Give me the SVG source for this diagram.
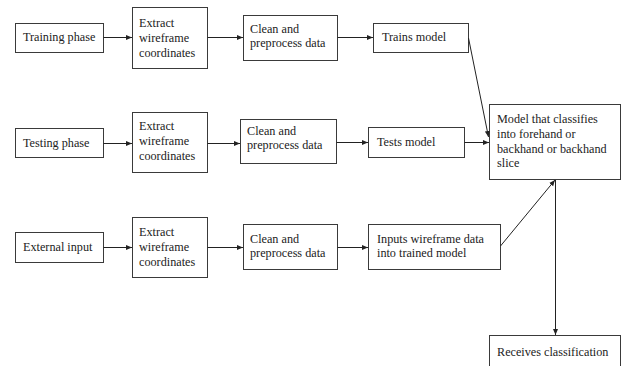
<svg xmlns="http://www.w3.org/2000/svg" width="621" height="366" viewBox="0 0 621 366">
<defs>
<marker id="ah" viewBox="0 0 6 6" refX="6" refY="3" markerWidth="6" markerHeight="6" markerUnits="userSpaceOnUse" orient="auto">
<path d="M0,0.5 L6,3 L0,5.5 z" fill="#222"/>
</marker>
<style>
rect{fill:#fff;stroke:#3a3a3a;stroke-width:1}
text{font-family:"Liberation Serif","Times New Roman",serif;font-size:12.2px;fill:#222}
.c line{stroke:#222;stroke-width:1;marker-end:url(#ah)}
</style>
</defs>
<rect x="0" y="0" width="621" height="366" style="stroke:none"/>
<g id="training"><rect x="15.5" y="23.5" width="88" height="29"/><text x="23" y="41">Training phase</text></g>
<g id="extract1"><rect x="132.5" y="7.5" width="75" height="61"/><text x="139" y="27">Extract</text><text x="139" y="42">wireframe</text><text x="139" y="57">coordinates</text></g>
<g id="clean1"><rect x="243.5" y="15.5" width="94" height="45"/><text x="250" y="33">Clean and</text><text x="250" y="47">preprocess data</text></g>
<g id="trains"><rect x="373.5" y="23.5" width="95" height="29"/><text x="382" y="41">Trains model</text></g>
<g id="testing"><rect x="15.5" y="128.5" width="88" height="29"/><text x="23" y="147">Testing phase</text></g>
<g id="extract2"><rect x="132.5" y="112.5" width="75" height="60"/><text x="139" y="130">Extract</text><text x="139" y="145">wireframe</text><text x="139" y="160">coordinates</text></g>
<g id="clean2"><rect x="240.5" y="119.5" width="96" height="44"/><text x="247" y="135">Clean and</text><text x="247" y="149">preprocess data</text></g>
<g id="tests"><rect x="368.5" y="127.5" width="96" height="30"/><text x="377" y="146">Tests model</text></g>
<g id="model"><rect x="489.5" y="104.5" width="131" height="75"/><text x="497" y="123">Model that classifies</text><text x="497" y="138">into forehand or</text><text x="497" y="153">backhand or backhand</text><text x="497" y="167">slice</text></g>
<g id="external"><rect x="15.5" y="232.5" width="88" height="30"/><text x="23" y="251">External input</text></g>
<g id="extract3"><rect x="132.5" y="217.5" width="75" height="60"/><text x="139" y="236">Extract</text><text x="139" y="251">wireframe</text><text x="139" y="266">coordinates</text></g>
<g id="clean3"><rect x="243.5" y="224.5" width="94" height="45"/><text x="250" y="243">Clean and</text><text x="250" y="257">preprocess data</text></g>
<g id="inputs"><rect x="368.5" y="224.5" width="132" height="45"/><text x="377" y="243">Inputs wireframe data</text><text x="377" y="257">into trained model</text></g>
<g id="receives"><rect x="489.5" y="335.5" width="131" height="40"/><text x="497" y="356">Receives classification</text></g>
<g class="c" id="connectors">
<line x1="103.5" y1="37.5" x2="132" y2="37.5"/>
<line x1="207.5" y1="37.5" x2="243" y2="37.5"/>
<line x1="337.5" y1="37.5" x2="373" y2="37.5"/>
<line x1="468.5" y1="38" x2="488.5" y2="137"/>
<line x1="103.5" y1="143.5" x2="132" y2="143.5"/>
<line x1="207.5" y1="143.5" x2="240" y2="143.5"/>
<line x1="336.5" y1="142.5" x2="368" y2="142.5"/>
<line x1="464.5" y1="142.5" x2="489" y2="142.5"/>
<line x1="103.5" y1="247.5" x2="132" y2="247.5"/>
<line x1="207.5" y1="247.5" x2="243" y2="247.5"/>
<line x1="337.5" y1="247.5" x2="368" y2="247.5"/>
<line x1="500.5" y1="246" x2="555" y2="180"/>
<line x1="555.5" y1="180" x2="555.5" y2="335"/>
</g>
</svg>
